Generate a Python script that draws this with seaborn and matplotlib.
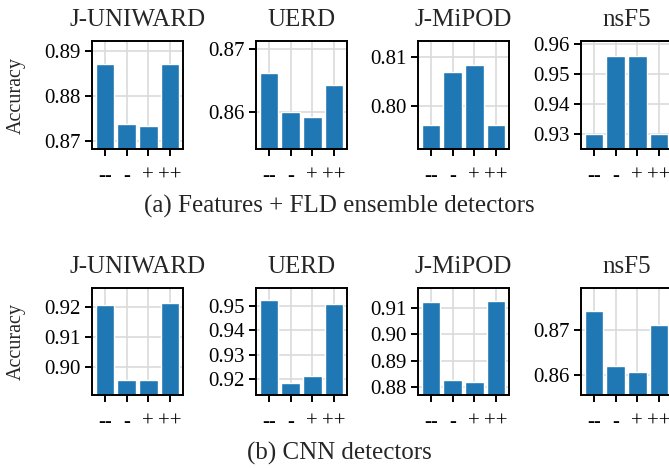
import matplotlib
matplotlib.use("Agg")
import matplotlib.pyplot as plt
import seaborn as sns
from matplotlib.ticker import MultipleLocator, FormatStrFormatter

# data
methods = ["J-UNIWARD", "UERD", "J-MiPOD", "nsF5"]
settings = ["--", "-", "+", "++"]

fld_juniward = [0.8871, 0.8738, 0.8733, 0.8871]
fld_uerd = [0.8663, 0.8600, 0.8592, 0.8644]
fld_jmipod = [0.7961, 0.8070, 0.8083, 0.7961]
fld_nsf5 = [0.9300, 0.9561, 0.9561, 0.9300]

cnn_juniward = [0.9205, 0.8958, 0.8958, 0.9212]
cnn_uerd = [0.9524, 0.9184, 0.9213, 0.9508]
cnn_jmipod = [0.9124, 0.8826, 0.8818, 0.9128]
cnn_nsf5 = [0.8742, 0.8619, 0.8606, 0.8711]

rows = [
    ("(a) Features + FLD ensemble detectors", [fld_juniward, fld_uerd, fld_jmipod, fld_nsf5]),
    ("(b) CNN detectors", [cnn_juniward, cnn_uerd, cnn_jmipod, cnn_nsf5]),
]

# style
sns.set_theme(style="whitegrid")
plt.rcParams["font.family"] = ["Liberation Serif", "DejaVu Serif"]
plt.rcParams["axes.edgecolor"] = "black"
plt.rcParams["axes.linewidth"] = 1.4
plt.rcParams["grid.color"] = "#dadada"
plt.rcParams["grid.linewidth"] = 1.2
plt.rcParams["xtick.bottom"] = True
plt.rcParams["ytick.left"] = True
plt.rcParams["xtick.major.size"] = 5
plt.rcParams["ytick.major.size"] = 5
plt.rcParams["xtick.major.width"] = 1.4
plt.rcParams["ytick.major.width"] = 1.4
plt.rcParams["xtick.color"] = "black"
plt.rcParams["ytick.color"] = "black"

W, H = 669, 468
fig = plt.figure(figsize=(W / 100, H / 100), dpi=100)

col_left = [92, 256, 418, 581]
ax_w = 91
row_box = [(41, 149), (288, 395)]
caption_y = [213, 460]

for r, (caption, series) in enumerate(rows):
    top, bottom = row_box[r]
    for c, vals in enumerate(series):
        ax = fig.add_axes([col_left[c] / W, 1 - bottom / H, ax_w / W, (bottom - top) / H])
        sns.barplot(x=settings, y=vals, color="#1f77b4", saturation=1, width=0.85, ax=ax, zorder=2)
        ax.set_xlim(-0.6, 3.6)
        ax.set_ylim(min(vals) - 0.005, max(vals) + 0.005)
        ax.yaxis.set_major_locator(MultipleLocator(0.01))
        ax.yaxis.set_major_formatter(FormatStrFormatter("%.2f"))
        ax.tick_params(axis="y", labelsize=15, pad=3)
        ax.tick_params(axis="x", labelsize=15, pad=8)
        ax.grid(True, zorder=0)
        ax.set_axisbelow(True)
        ax.set_title(methods[c], fontsize=18, pad=11)
        if c == 0:
            ax.set_ylabel("Accuracy", fontsize=14.5)
            ax.yaxis.set_label_coords(-0.73, 0.5)
        else:
            ax.set_ylabel("")
        for s in ax.spines.values():
            s.set_visible(True)
            s.set_color("black")
    fig.text(339.5 / W, 1 - caption_y[r] / H, caption, fontsize=18,
             ha="center", va="baseline")

plt.savefig("out.png", dpi=100)
plt.close(fig)
